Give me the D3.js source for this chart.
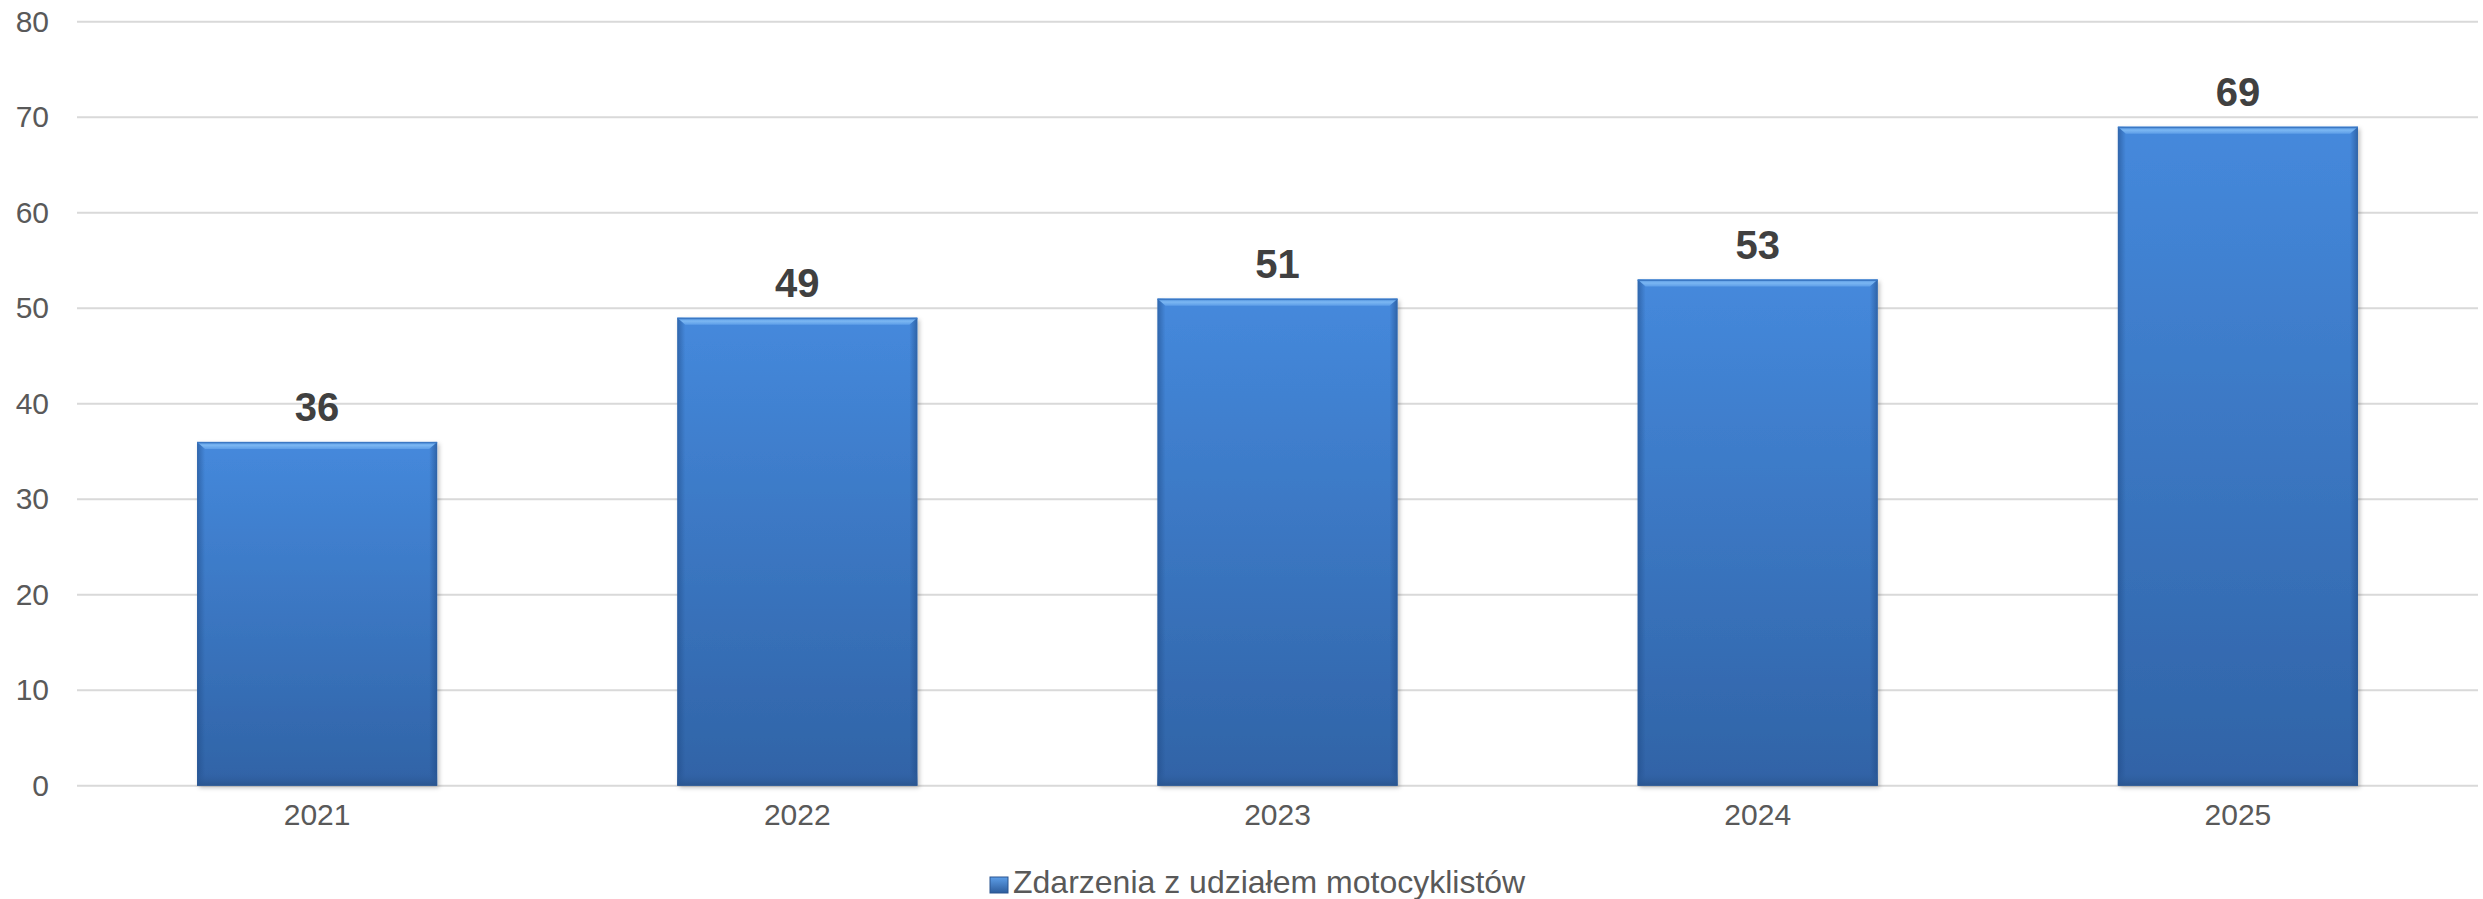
<!DOCTYPE html>
<html>
<head>
<meta charset="utf-8">
<script src="https://cdn.jsdelivr.net/npm/d3@7"></script>
<style>
  html, body { margin: 0; padding: 0; background: #fff; }
  svg { display: block; font-family: Arial, "Liberation Sans", sans-serif; }
</style>
</head>
<body>
<svg id="chart" width="2483" height="899"></svg>
<script>
const categories = ["2021", "2022", "2023", "2024", "2025"];
const values = [36, 49, 51, 53, 69];
const yTicks = [0, 10, 20, 30, 40, 50, 60, 70, 80];
const seriesName = "Zdarzenia z udziałem motocyklistów";

const W = 2483, H = 899;
const margin = { left: 77, right: 5, top: 21.7, bottom: 113.3 };
const svg = d3.select("#chart");

const x = d3.scaleBand().domain(categories).range([margin.left, W - margin.right]).paddingInner(0.5).paddingOuter(0.25);
const y = d3.scaleLinear().domain([0, 80]).range([H - margin.bottom, margin.top]);

const defs = svg.append("defs");
const g1 = defs.append("linearGradient").attr("id", "barGrad").attr("x1", 0).attr("y1", 0).attr("x2", 0).attr("y2", 1);
g1.append("stop").attr("offset", "0%").attr("stop-color", "#4589dc");
g1.append("stop").attr("offset", "100%").attr("stop-color", "#3063a6");
const gTop = defs.append("linearGradient").attr("id", "topGrad").attr("x1", 0).attr("y1", 0).attr("x2", 0).attr("y2", 1);
gTop.append("stop").attr("offset", "0%").attr("stop-color", "#5a9be6");
gTop.append("stop").attr("offset", "50%").attr("stop-color", "#7ab6f2");
gTop.append("stop").attr("offset", "100%").attr("stop-color", "#5d9ee8");
const gBot = defs.append("linearGradient").attr("id", "botGrad").attr("x1", 0).attr("y1", 0).attr("x2", 0).attr("y2", 1);
gBot.append("stop").attr("offset", "0%").attr("stop-color", "#3063a6").attr("stop-opacity", 0);
gBot.append("stop").attr("offset", "100%").attr("stop-color", "#2a558f").attr("stop-opacity", 1);
const gL = defs.append("linearGradient").attr("id", "leftGrad").attr("x1", 0).attr("y1", 0).attr("x2", 1).attr("y2", 0);
gL.append("stop").attr("offset", "0%").attr("stop-color", "#1f4a85").attr("stop-opacity", 0.55);
gL.append("stop").attr("offset", "100%").attr("stop-color", "#1f4a85").attr("stop-opacity", 0);
const gR = defs.append("linearGradient").attr("id", "rightGrad").attr("x1", 0).attr("y1", 0).attr("x2", 1).attr("y2", 0);
gR.append("stop").attr("offset", "0%").attr("stop-color", "#1f4a85").attr("stop-opacity", 0);
gR.append("stop").attr("offset", "100%").attr("stop-color", "#1f4a85").attr("stop-opacity", 0.6);
const f = defs.append("filter").attr("id", "shadow").attr("x", "-10%").attr("y", "-10%").attr("width", "120%").attr("height", "120%");
f.append("feDropShadow").attr("dx", 2).attr("dy", 2).attr("stdDeviation", 2).attr("flood-color", "#000").attr("flood-opacity", 0.25);

// gridlines
svg.append("g").selectAll("line").data(yTicks).join("line")
  .attr("x1", margin.left).attr("x2", W - margin.right)
  .attr("y1", d => y(d)).attr("y2", d => y(d))
  .attr("stroke", "#d9d9d9").attr("stroke-width", 2);

// y axis labels
const yAxis = d3.axisLeft(y).tickValues(yTicks).tickSize(0).tickPadding(28);
const ya = svg.append("g").attr("transform", `translate(${margin.left},0)`).call(yAxis);
ya.select(".domain").remove();
ya.selectAll("text").attr("font-size", 30).attr("fill", "#595959").attr("font-family", "Arial, 'Liberation Sans', sans-serif");

// x axis labels
const xAxis = d3.axisBottom(x).tickSize(0).tickPadding(18);
const xa = svg.append("g").attr("transform", `translate(0,${y(0)})`).call(xAxis);
xa.select(".domain").remove();
xa.selectAll("text").attr("font-size", 30).attr("fill", "#595959").attr("font-family", "Arial, 'Liberation Sans', sans-serif");

// bars
const bw = x.bandwidth();
const bars = svg.append("g").selectAll("g").data(values).join("g")
  .attr("transform", (d, i) => `translate(${x(categories[i])},${y(d)})`);
bars.append("rect").attr("width", bw).attr("height", d => y(0) - y(d))
  .attr("fill", "url(#barGrad)").attr("filter", "url(#shadow)");
bars.append("rect").attr("x", 0).attr("width", 8).attr("height", d => y(0) - y(d)).attr("fill", "url(#leftGrad)");
bars.append("rect").attr("x", bw - 8).attr("width", 8).attr("height", d => y(0) - y(d)).attr("fill", "url(#rightGrad)");
bars.append("rect").attr("y", d => y(0) - y(d) - 14).attr("width", bw).attr("height", 14).attr("fill", "url(#botGrad)");
bars.append("polygon").attr("points", `0,0 ${bw},0 ${bw - 8},7 8,7`).attr("fill", "url(#topGrad)");
bars.append("rect").attr("width", bw).attr("height", 1.5).attr("fill", "#3b78c4");

// data labels
svg.append("g").selectAll("text").data(values).join("text")
  .attr("x", (d, i) => x(categories[i]) + bw / 2)
  .attr("y", d => y(d) - 21)
  .attr("text-anchor", "middle")
  .attr("font-size", 40).attr("font-weight", "bold").attr("fill", "#404040")
  .text(d => d);

// legend
const lg = svg.append("g").attr("transform", `translate(990,877)`);
const lgg = defs.append("linearGradient").attr("id", "lgGrad").attr("x1", 0).attr("y1", 0).attr("x2", 0).attr("y2", 1);
lgg.append("stop").attr("offset", "0%").attr("stop-color", "#5d9ee8");
lgg.append("stop").attr("offset", "100%").attr("stop-color", "#2d5c9c");
lg.append("rect").attr("width", 18).attr("height", 16).attr("fill", "url(#lgGrad)").attr("stroke", "#2a558f").attr("stroke-width", 1);
lg.append("text").attr("x", 23).attr("y", 16).attr("font-size", 32).attr("fill", "#595959").text(seriesName);
</script>
</body>
</html>
